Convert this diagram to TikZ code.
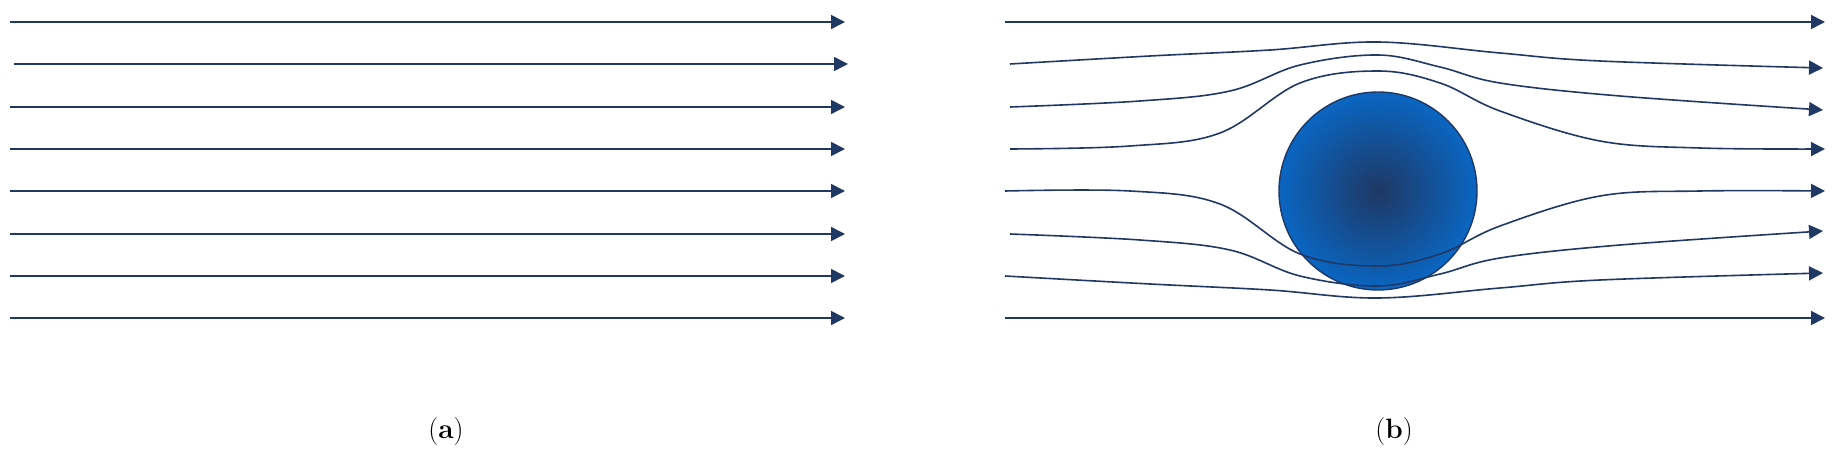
\documentclass[tikz,border=0pt]{standalone}
\usetikzlibrary{arrows.meta}
\definecolor{navy}{HTML}{1F3864}
\definecolor{sph}{HTML}{0A66C2}
\tikzset{flow/.style={navy,line width=1.6pt,-{Triangle[length=14pt,width=14pt]}},
 lab/.style={font=\fontsize{28}{32}\selectfont}}
\begin{document}
\begin{tikzpicture}[x=1pt,y=-1pt]
\useasboundingbox (0,0) rectangle (1845,462);
% panel a
\foreach \y/\s/\e [count=\i] in {22/10/845,64/14/848,107/10/845,149/10/845,191/10/845,234/10/845,276/10/845,318/10/845}{
  \coordinate (as\i) at (\s,\y); \coordinate (ae\i) at (\e,\y);
  \draw[flow] (as\i) -- (ae\i);}
\node[lab] (la) at (446,432) {(\textbf{a})};
% panel b
\shade[inner color=navy, outer color=sph] (1378,191) circle (99);
\node[circle,draw=navy,line width=1.4pt,minimum size=198pt,inner sep=0pt] (ball) at (1378,191) {};
\coordinate (b1s) at (1005,22); \coordinate (b1e) at (1825,22);
\coordinate (b5s) at (1005,191); \coordinate (b5e) at (1825,191);
\coordinate (b8s) at (1005,318); \coordinate (b8e) at (1825,318);
\draw[flow] (b1s) -- (b1e);
\draw[flow] (b8s) -- (b8e);
% top curves
\draw[flow] plot[smooth,tension=0.6] coordinates {(1010,64) (1150,56) (1270,50) (1378,42) (1500,53) (1600,61) (1823,68)};
\draw[flow] plot[smooth,tension=0.6] coordinates {(1010,107) (1140,101) (1230,91) (1300,65) (1378,55) (1440,67) (1500,83) (1620,96) (1823,110)};
\draw[flow] plot[smooth,tension=0.6] coordinates {(1010,149) (1130,146) (1220,133) (1300,83) (1378,71) (1440,83) (1500,111) (1600,141) (1700,148) (1825,149)};
% bottom curves
\draw[flow] plot[smooth,tension=0.6] coordinates {(1005,191) (1130,191) (1220,204) (1300,254) (1378,266) (1440,254) (1500,226) (1600,196) (1700,191) (1825,191)};
\draw[flow] plot[smooth,tension=0.6] coordinates {(1010,234) (1140,240) (1230,250) (1300,276) (1378,286) (1440,274) (1500,258) (1620,245) (1823,231)};
\draw[flow] plot[smooth,tension=0.6] coordinates {(1005,276) (1150,284) (1270,290) (1378,298) (1500,288) (1600,280) (1823,273)};
\node[lab] (lb) at (1394,432) {(\textbf{b})};
\end{tikzpicture}
\end{document}
